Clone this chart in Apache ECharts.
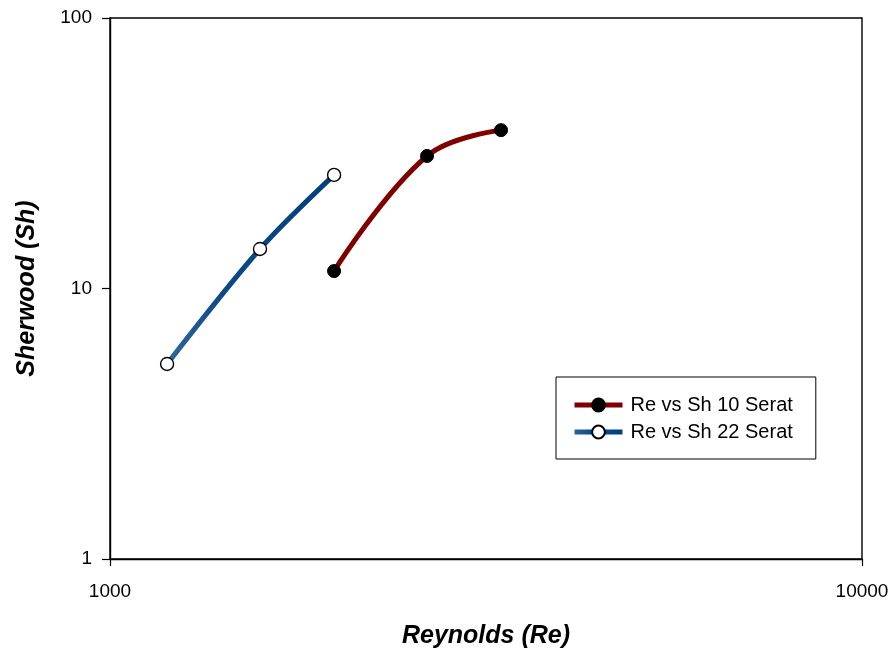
<!DOCTYPE html>
<html><head><meta charset="utf-8">
<script src="https://cdn.jsdelivr.net/npm/echarts@6/dist/echarts.min.js"></script>
<style>html,body{margin:0;padding:0;background:#fff}#c{width:892px;height:652px}</style>
</head><body><div id="c"></div>
<script>
const seriesNames = ['Re vs Sh 10 Serat', 'Re vs Sh 22 Serat'];
const re10 = [1986, 2640, 3311];
const sh10 = [11.6, 30.9, 38.5];
const re22 = [1191, 1583, 1986];
const sh22 = [5.26, 14.0, 26.3];
const xTicks = [1000, 10000];
const yTicks = [1, 10, 100];

const chart = echarts.init(document.getElementById('c'));
const font = '"Liberation Sans", Arial, sans-serif';
chart.setOption({
  animation: false,
  backgroundColor: '#fff',
  grid: {left: 110, top: 18, right: 30, bottom: 93, show: true, containLabel: false, outerBoundsMode: 'none',
         borderColor: '#000', borderWidth: 1.4, backgroundColor: 'transparent'},
  legend: {
    left: 556, top: 377, orient: 'vertical',
    data: seriesNames,
    padding: [18, 23, 17, 16], itemGap: 7, itemWidth: 48, itemHeight: 16,
    borderColor: '#000', borderWidth: 1,
    lineStyle: {width: 5},
    textStyle: {fontFamily: font, fontSize: 20, color: '#000', padding: [0, 0, 0, 3]}
  },
  xAxis: {
    type: 'log', logBase: 10, min: xTicks[0], max: xTicks[xTicks.length-1],
    name: 'Reynolds (Re)', nameLocation: 'middle', nameGap: 65,
    nameTextStyle: {fontFamily: font, fontSize: 25, fontWeight: 'bold', fontStyle: 'italic', color: '#000'},
    axisLine: {show: true, lineStyle: {color: '#000', width: 1.4}},
    axisTick: {show: true, length: 7, inside: false, lineStyle: {color: '#000', width: 1.2}},
    axisLabel: {fontFamily: font, fontSize: 19, color: '#000', margin: 23, formatter: v => String(Math.round(v))},
    splitLine: {show: false}, minorTick: {show: false}
  },
  yAxis: {
    type: 'log', logBase: 10, min: yTicks[0], max: yTicks[yTicks.length-1],
    name: 'Sherwood (Sh)', nameLocation: 'middle', nameGap: 70,
    nameTextStyle: {fontFamily: font, fontSize: 25, fontWeight: 'bold', fontStyle: 'italic', color: '#000'},
    axisLine: {show: true, lineStyle: {color: '#000', width: 1.4}},
    axisTick: {show: true, length: 8, lineStyle: {color: '#000', width: 1.2}},
    axisLabel: {fontFamily: font, fontSize: 19, color: '#000', margin: 18, formatter: v => String(Math.round(v))},
    splitLine: {show: false}
  },
  series: [
    {name: seriesNames[0], type: 'line', smooth: 0.4,
     data: re10.map((x,i)=>[x, sh10[i]]),
     symbol: 'circle', symbolSize: 13,
     lineStyle: {color: '#800000', width: 5},
     itemStyle: {color: '#000', borderColor: '#000', borderWidth: 1},
     color: '#800000'},
    {name: seriesNames[1], type: 'line', smooth: 0.3,
     data: re22.map((x,i)=>[x, sh22[i]]),
     symbol: 'circle', symbolSize: 13,
     lineStyle: {width: 5, color: new echarts.graphic.LinearGradient(0, 1, 1, 0, [
        {offset: 0, color: '#3368a0'}, {offset: 0.35, color: '#0d4a87'}, {offset: 1, color: '#003f7f'}])},
     itemStyle: {color: '#fff', borderColor: '#000', borderWidth: 1.4},
     color: '#004080'}
  ]
});
</script></body></html>
